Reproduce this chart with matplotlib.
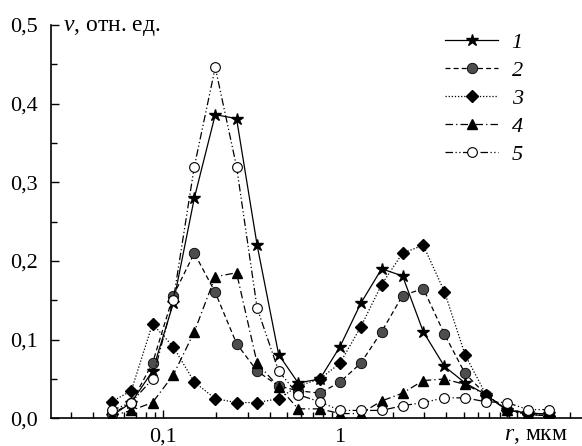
"""size distributions, five samples"""
import matplotlib
matplotlib.use("Agg")
import matplotlib.pyplot as plt
from matplotlib.ticker import FixedLocator, LogLocator, NullFormatter

plt.rcParams["font.family"] = ["Liberation Serif", "DejaVu Serif"]
plt.rcParams["mathtext.fontset"] = "custom"
plt.rcParams["mathtext.it"] = "Liberation Serif:italic"
plt.rcParams["mathtext.rm"] = "Liberation Serif"

# particle radius, um
r = [0.051, 0.066, 0.087, 0.114, 0.15, 0.197, 0.26, 0.34, 0.45, 0.58, 0.77,
     1.0, 1.31, 1.72, 2.26, 2.96, 3.9, 5.1, 6.7, 8.8, 11.6, 15.2]

# relative fractions
v1 = [0.003, 0.02, 0.06, 0.146, 0.28, 0.386, 0.381, 0.22, 0.081, 0.045, 0.05,
      0.091, 0.146, 0.19, 0.181, 0.11, 0.066, 0.045, 0.03, 0.01, 0.007, 0.005]
v2 = [0.005, 0.02, 0.07, 0.156, 0.21, 0.16, 0.095, 0.06, 0.041, 0.035, 0.032,
      0.046, 0.07, 0.11, 0.156, 0.165, 0.107, 0.057, 0.03, 0.011, 0.007, 0.005]
v3 = [0.021, 0.035, 0.12, 0.091, 0.046, 0.025, 0.02, 0.02, 0.025, 0.041, 0.05,
      0.07, 0.116, 0.17, 0.21, 0.22, 0.161, 0.081, 0.03, 0.011, 0.005, 0.003]
v4 = [0.003, 0.01, 0.02, 0.055, 0.11, 0.18, 0.185, 0.07, 0.04, 0.012, 0.012,
      0.006, 0.006, 0.022, 0.032, 0.048, 0.05, 0.043, 0.03, 0.01, 0.005, 0.003]
v5 = [0.01, 0.02, 0.05, 0.15, 0.32, 0.446, 0.32, 0.14, 0.06, 0.03, 0.021,
      0.01, 0.01, 0.01, 0.016, 0.02, 0.026, 0.026, 0.021, 0.02, 0.011, 0.011]

labels = ["1", "2", "3", "4", "5"]
ytick_vals = [0.0, 0.1, 0.2, 0.3, 0.4, 0.5]
ytick_text = ["0,0", "0,1", "0,2", "0,3", "0,4", "0,5"]
xtick_vals = [0.1, 1, 10]
xtick_text = ["0,1", "1", ""]

W, H = 582, 446
fig = plt.figure(figsize=(W / 100, H / 100), dpi=100)
ax = fig.add_axes([50.7 / W, 27.7 / H, (W - 50.7) / W, 393.3 / H])

lw = 0.9
ax.plot(r, v1, color="k", lw=lw, ls="-", marker="*", ms=9, mfc="k", mec="k", label=labels[0])
ax.plot(r, v2, color="k", lw=lw, ls=(0, (4, 2.5)), marker="o", ms=7.5, mfc="#4d4d4d", mec="k",
        mew=0.6, label=labels[1])
ax.plot(r, v3, color="k", lw=lw, ls=(0, (1, 1.5)), marker="D", ms=6.5, mfc="k", mec="k",
        label=labels[2])
ax.plot(r, v4, color="k", lw=lw, ls=(0, (6, 2.5, 1, 2.5)), marker="^", ms=7.5, mfc="k", mec="k",
        label=labels[3])
ax.plot(r, v5, color="k", lw=lw, ls=(0, (6, 2, 1, 2, 1, 2)), marker="o", ms=7, mfc="white",
        mec="k", mew=0.8, label=labels[4])

ax.set_xscale("log")
ax.set_xlim(0.0231, 23.4)
ax.set_ylim(0, 0.5)

ax.xaxis.set_major_locator(FixedLocator(xtick_vals))
ax.set_xticklabels(xtick_text)
ax.xaxis.set_minor_locator(LogLocator(base=10, subs=range(2, 10)))
ax.xaxis.set_minor_formatter(NullFormatter())
ax.set_yticks(ytick_vals)
ax.set_yticklabels(ytick_text)
ax.set_yticks([0.05, 0.15, 0.25, 0.35, 0.45], minor=True)

ax.tick_params(which="both", direction="in", labelsize=16, width=1)
ax.tick_params(which="major", length=6)
ax.tick_params(which="minor", length=4)
ax.tick_params(axis="x", pad=7)
ax.tick_params(axis="y", pad=9)

for s in ["top", "right"]:
    ax.spines[s].set_visible(False)
for s in ["left", "bottom"]:
    ax.spines[s].set_linewidth(1.2)

fig.text(63 / W, 1 - 31 / H, r"$v$, отн. ед.", fontsize=17, va="baseline", ha="left")
fig.text(504 / W, 1 - 440 / H, r"$r$, мкм", fontsize=17, va="baseline", ha="left")

leg = ax.legend(loc="upper left", bbox_to_anchor=(445 / W, 1 - 32 / H),
                bbox_transform=fig.transFigure, frameon=False, borderpad=0,
                borderaxespad=0, handlelength=2.4, handletextpad=0.6,
                labelspacing=0.34, numpoints=1, prop={"size": 16, "style": "italic"})

fig.savefig("out.png", dpi=100)
